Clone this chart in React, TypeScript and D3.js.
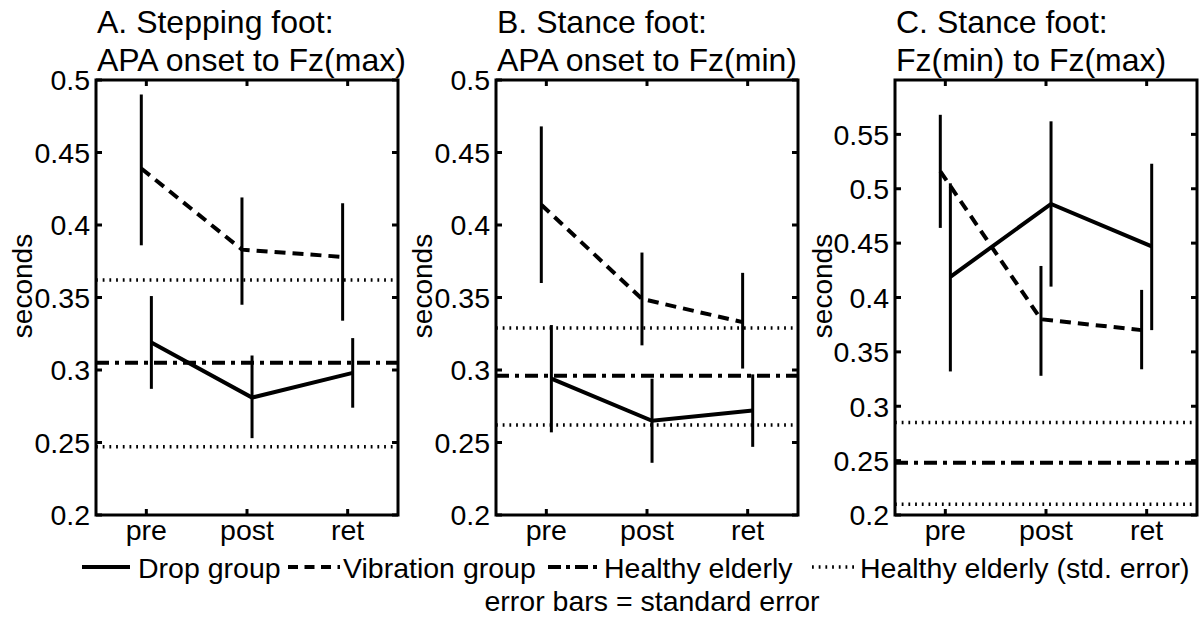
import React from 'react';
import * as d3 from 'd3';

// ---------- data ----------
const categories = ['pre', 'post', 'ret'];

const titleA = ['A. Stepping foot:', 'APA onset to Fz(max)'];
const titleB = ['B. Stance foot:', 'APA onset to Fz(min)'];
const titleC = ['C. Stance foot:', 'Fz(min) to Fz(max)'];

const yTicksAB = [0.2, 0.25, 0.3, 0.35, 0.4, 0.45, 0.5];
const yTicksC = [0.2, 0.25, 0.3, 0.35, 0.4, 0.45, 0.5, 0.55];

// Panel A
const dropMeanA = [0.319, 0.281, 0.298];
const dropLoA = [0.287, 0.253, 0.274];
const dropHiA = [0.351, 0.310, 0.322];
const vibMeanA = [0.439, 0.383, 0.378];
const vibLoA = [0.386, 0.345, 0.334];
const vibHiA = [0.490, 0.419, 0.415];
const healthyA = [0.247, 0.305, 0.362]; // lo, mean, hi

// Panel B
const dropMeanB = [0.294, 0.265, 0.272];
const dropLoB = [0.257, 0.236, 0.247];
const dropHiB = [0.331, 0.294, 0.297];
const vibMeanB = [0.414, 0.349, 0.333];
const vibLoB = [0.360, 0.317, 0.301];
const vibHiB = [0.468, 0.381, 0.367];
const healthyB = [0.262, 0.296, 0.329];

// Panel C
const dropMeanC = [0.419, 0.486, 0.447];
const dropLoC = [0.332, 0.410, 0.370];
const dropHiC = [0.505, 0.562, 0.523];
const vibMeanC = [0.516, 0.380, 0.370];
const vibLoC = [0.464, 0.328, 0.334];
const vibHiC = [0.568, 0.429, 0.407];
const healthyC = [0.210, 0.248, 0.285];

const legendLabels = ['Drop group', 'Vibration group', 'Healthy elderly', 'Healthy elderly (std. error)'];
const footnote = 'error bars = standard error';

// ---------- layout ----------
const FONT = '"Liberation Sans", Arial, Helvetica, sans-serif';
const W = 1200;
const H = 624;
const TOP = 80;
const BOTTOM = 515;
const PANEL_X = [96, 496, 895];
const PANEL_W = 302;
const YLABEL_X = [22, 422, 822];
const OFFSET = 0.05;

const DASH = '11,7';
const DASHDOT = '13,6,4,6';
const DOT = '1.8,4.9';

type Panel = {
  title: string[];
  ticks: number[];
  domain: [number, number];
  drop: number[][];
  vib: number[][];
  healthy: number[];
};

const panels: Panel[] = [
  { title: titleA, ticks: yTicksAB, domain: [0.2, 0.5], drop: [dropMeanA, dropLoA, dropHiA], vib: [vibMeanA, vibLoA, vibHiA], healthy: healthyA },
  { title: titleB, ticks: yTicksAB, domain: [0.2, 0.5], drop: [dropMeanB, dropLoB, dropHiB], vib: [vibMeanB, vibLoB, vibHiB], healthy: healthyB },
  { title: titleC, ticks: yTicksC, domain: [0.2, 0.6], drop: [dropMeanC, dropLoC, dropHiC], vib: [vibMeanC, vibLoC, vibHiC], healthy: healthyC },
];

function PanelView({ p, i }: { p: Panel; i: number }) {
  const x0 = PANEL_X[i];
  const x = d3.scaleLinear().domain([0.5, 3.5]).range([x0, x0 + PANEL_W]);
  const y = d3.scaleLinear().domain(p.domain).range([BOTTOM, TOP]);
  const line = d3.line<[number, number]>().x(d => x(d[0])).y(d => y(d[1]));
  const idx = categories.map((_, k) => k + 1);

  const series = (s: number[][], off: number, dash?: string) => (
    <g>
      <path d={line(idx.map((k, j) => [k + off, s[0][j]]) as [number, number][]) || ''}
        fill="none" stroke="#000" strokeWidth={4} strokeDasharray={dash} />
      {idx.map((k, j) => (
        <line key={j} x1={x(k + off)} x2={x(k + off)} y1={y(s[1][j])} y2={y(s[2][j])}
          stroke="#000" strokeWidth={3} />
      ))}
    </g>
  );

  const hline = (v: number, dash: string, w: number) => (
    <line x1={x(0.5)} x2={x(3.5)} y1={y(v)} y2={y(v)} stroke="#000" strokeWidth={w} strokeDasharray={dash} />
  );

  const TL = 6;
  return (
    <g>
      {p.title.map((t, k) => (
        <text key={k} x={x0 + 1} y={33 + k * 38} fontSize={32} fontFamily={FONT}>{t}</text>
      ))}
      {hline(p.healthy[0], DOT, 3.5)}
      {hline(p.healthy[2], DOT, 3.5)}
      {hline(p.healthy[1], DASHDOT, 4)}
      {series(p.vib, -OFFSET, DASH)}
      {series(p.drop, OFFSET)}
      <rect x={x0} y={TOP} width={PANEL_W} height={BOTTOM - TOP} fill="none" stroke="#000" strokeWidth={3} />
      {p.ticks.map(v => (
        <g key={v}>
          <line x1={x0} x2={x0 + TL} y1={y(v)} y2={y(v)} stroke="#000" strokeWidth={3} />
          <line x1={x0 + PANEL_W} x2={x0 + PANEL_W - TL} y1={y(v)} y2={y(v)} stroke="#000" strokeWidth={3} />
          <text x={x0 - 6} y={y(v)} dy="0.36em" textAnchor="end" fontSize={28.5} fontFamily={FONT}>{String(v)}</text>
        </g>
      ))}
      {categories.map((c, k) => (
        <g key={c}>
          <line x1={x(k + 1)} x2={x(k + 1)} y1={BOTTOM} y2={BOTTOM - TL} stroke="#000" strokeWidth={3} />
          <line x1={x(k + 1)} x2={x(k + 1)} y1={TOP} y2={TOP + TL} stroke="#000" strokeWidth={3} />
          <text x={x(k + 1)} y={540} textAnchor="middle" fontSize={28.5} fontFamily={FONT}>{c}</text>
        </g>
      ))}
      <text transform={`translate(${YLABEL_X[i] + 10},${286}) rotate(-90)`} textAnchor="middle" fontSize={28} fontFamily={FONT}>seconds</text>
    </g>
  );
}

const LEGEND_LINE = [[82, 130], [288, 340], [548, 600], [812, 855]];
const LEGEND_TEXT_X = [138, 343, 604, 860];
const LEGEND_STYLE = [
  { dash: undefined as string | undefined, w: 4 },
  { dash: '10,6.5', w: 4 },
  { dash: '13,5,4,5', w: 4 },
  { dash: DOT, w: 3.5 },
];

export default function App() {
  return (
    <svg width={W} height={H} style={{ position: 'absolute', left: 0, top: 0, background: '#fff' }}>
      <rect width={W} height={H} fill="#fff" />
      {panels.map((p, i) => <PanelView key={i} p={p} i={i} />)}
      {legendLabels.map((l, k) => (
        <g key={l}>
          <line x1={LEGEND_LINE[k][0]} x2={LEGEND_LINE[k][1]} y1={567} y2={567} stroke="#000"
            strokeWidth={LEGEND_STYLE[k].w} strokeDasharray={LEGEND_STYLE[k].dash} />
          <text x={LEGEND_TEXT_X[k]} y={578} fontSize={28.5} fontFamily={FONT}>{l}</text>
        </g>
      ))}
      <text x={652} y={611} textAnchor="middle" fontSize={28.5} fontFamily={FONT}>{footnote}</text>
    </svg>
  );
}
